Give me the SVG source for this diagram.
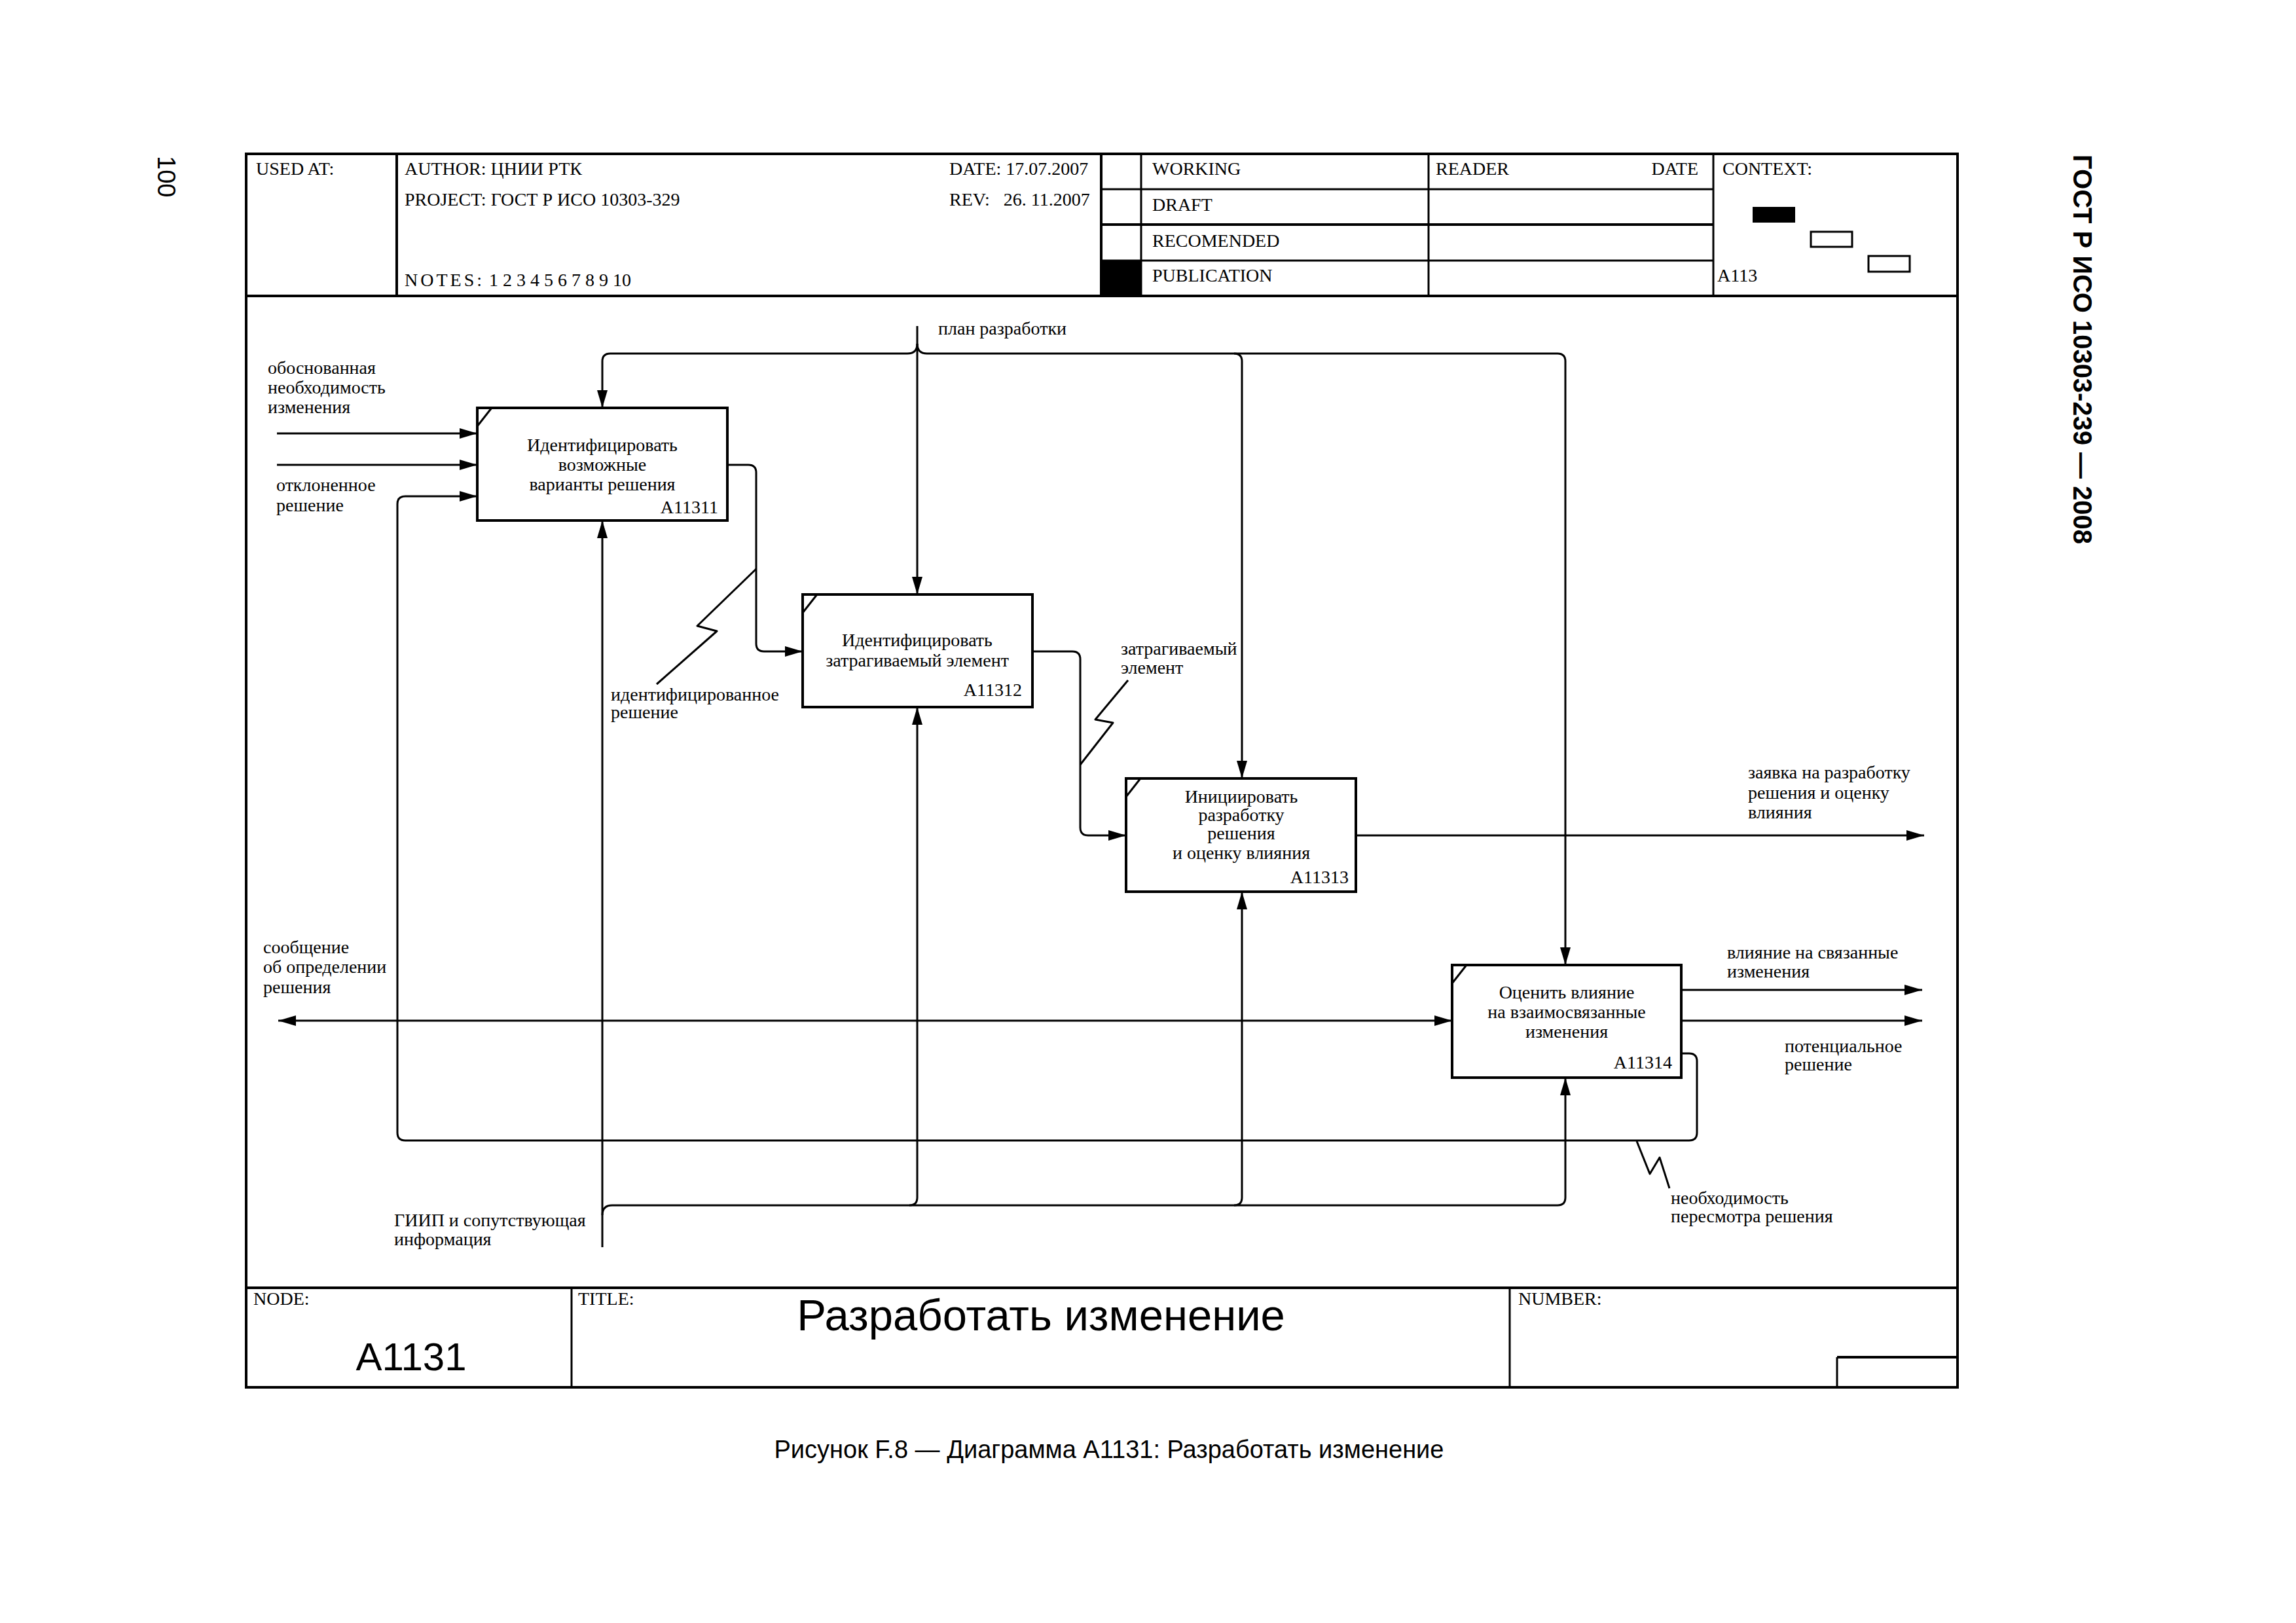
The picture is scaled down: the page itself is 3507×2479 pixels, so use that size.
<svg xmlns="http://www.w3.org/2000/svg" width="3507" height="2479" viewBox="0 0 3507 2479">
<style>
.bg{fill:#fff}
.fr{fill:none;stroke:#000;stroke-width:4}
.ln{fill:none;stroke:#000;stroke-width:3}
.box{fill:#fff;stroke:#000;stroke-width:4}
.cn{fill:none;stroke:#000;stroke-width:3;stroke-linejoin:round}
.arr{marker-end:url(#ah)}
.t{font-family:"Liberation Serif","Times New Roman",serif;font-size:28px;fill:#000}
.c{text-anchor:middle}
.r{text-anchor:end}
.s{font-family:"Liberation Sans",Arial,sans-serif;fill:#000}
</style>
<defs>
<marker id="ah" markerUnits="userSpaceOnUse" markerWidth="28" markerHeight="18" refX="27" refY="8" orient="auto-start-reverse"><path d="M0,0 L27,8 L0,16 z" fill="#000"/></marker>
</defs>
<rect class="bg" x="0" y="0" width="3507" height="2479"/>

<g id="page">
<text class="s" font-size="38" transform="translate(241,238) rotate(90)">100</text>
<text class="s" font-size="40" font-weight="bold" textLength="595" lengthAdjust="spacingAndGlyphs" transform="translate(3167,236) rotate(90)">ГОСТ Р ИСО 10303-239 — 2008</text>
<text class="s c" font-size="38" x="1694" y="2227">Рисунок F.8 — Диаграмма A1131: Разработать изменение</text>
</g>

<g id="frame">
<rect class="fr" x="376" y="235" width="2614" height="1884"/>
<line class="fr" x1="376" y1="452" x2="2990" y2="452"/>
<line class="fr" x1="376" y1="1967" x2="2990" y2="1967"/>
<line class="fr" x1="606" y1="235" x2="606" y2="452"/>
<line class="fr" x1="1682" y1="235" x2="1682" y2="452"/>
<line class="ln" x1="1743" y1="235" x2="1743" y2="452"/>
<line class="ln" x1="2182" y1="235" x2="2182" y2="452"/>
<line class="ln" x1="2617" y1="235" x2="2617" y2="452"/>
<line class="ln" x1="1682" y1="289" x2="2617" y2="289"/>
<line class="fr" x1="1682" y1="343" x2="2617" y2="343"/>
<line class="ln" x1="1682" y1="398" x2="2617" y2="398"/>
<rect x="1682" y="398" width="61" height="54" fill="#000"/>
<rect x="2677" y="316" width="65" height="24" fill="#000"/>
<rect class="ln" x="2766" y="354" width="63" height="23"/>
<rect class="ln" x="2854" y="391" width="63" height="24"/>
<line class="ln" x1="873" y1="1967" x2="873" y2="2119"/>
<line class="ln" x1="2306" y1="1967" x2="2306" y2="2119"/>
<line class="fr" x1="2806" y1="2073" x2="2990" y2="2073"/>
<line class="ln" x1="2806" y1="2073" x2="2806" y2="2119"/>
<text class="t" x="391" y="267">USED AT:</text>
<text class="t" x="618" y="267">AUTHOR: ЦНИИ РТК</text>
<text class="t" x="1450" y="267">DATE: 17.07.2007</text>
<text class="t" x="618" y="314">PROJECT: ГОСТ Р ИСО 10303-329</text>
<text class="t" x="1450" y="314" xml:space="preserve">REV:   26. 11.2007</text>
<text class="t" x="618" y="437"><tspan letter-spacing="4">NOTES:</tspan> 1 2 3 4 5 6 7 8 9 10</text>
<text class="t" x="1760" y="267">WORKING</text>
<text class="t" x="1760" y="322">DRAFT</text>
<text class="t" x="1760" y="377">RECOMENDED</text>
<text class="t" x="1760" y="430">PUBLICATION</text>
<text class="t" x="2193" y="267">READER</text>
<text class="t r" x="2594" y="267">DATE</text>
<text class="t" x="2631" y="267">CONTEXT:</text>
<text class="t" x="2623" y="430">A113</text>
<text class="t" x="387" y="1993">NODE:</text>
<text class="t" x="883" y="1993">TITLE:</text>
<text class="t" x="2319" y="1993">NUMBER:</text>
<text class="s c" font-size="60" x="628" y="2093">A1131</text>
<text class="s c" font-size="67" x="1590" y="2032">Разработать изменение</text>
</g>

<g id="connectors">
<path class="cn arr" d="M423,662 H729"/>
<path class="cn arr" d="M423,710 H729"/>
<path class="cn arr" d="M2568,1609 H2580 Q2592,1609 2592,1621 V1730 Q2592,1742 2580,1742 H619 Q607,1742 607,1730 V770 Q607,758 619,758 H729"/>
<path class="cn arr" d="M1111,710 H1143 Q1155,710 1155,722 V983 Q1155,995 1167,995 H1226"/>
<path class="cn arr" d="M1577,995 H1638 Q1650,995 1650,1007 V1264 Q1650,1276 1662,1276 H1720"/>
<path class="cn arr" d="M2071,1276 H2939"/>
<path class="cn arr" d="M2568,1512 H2936"/>
<path class="cn arr" d="M2568,1559 H2936"/>
<path class="cn arr" marker-start="url(#ah)" d="M425,1559 H2218"/>
<path class="cn arr" d="M1401,498 V908"/>
<path class="cn arr" d="M1401,525 Q1401,540 1386,540 H932 Q920,540 920,552 V623"/>
<path class="cn arr" d="M1401,525 Q1401,540 1416,540 H2379 Q2391,540 2391,552 V1474"/>
<path class="cn arr" d="M1885,540 Q1897,540 1897,552 V1189"/>
<path class="cn arr" d="M920,1905 V795"/>
<path class="cn arr" d="M920,1856 Q920,1841 935,1841 H2379 Q2391,1841 2391,1829 V1646"/>
<path class="cn arr" d="M1389,1841 Q1401,1841 1401,1829 V1080"/>
<path class="cn arr" d="M1885,1841 Q1897,1841 1897,1829 V1362"/>
<path class="cn" d="M1155,869 L1065,956 L1095,964 L1003,1045"/>
<path class="cn" d="M1650,1168 L1700,1104 L1673,1099 L1723,1039"/>
<path class="cn" d="M2500,1743 L2520,1793 L2535,1768 L2550,1815"/>
</g>

<g id="labels">
<text class="t" x="409" y="571">обоснованная</text>
<text class="t" x="409" y="601">необходимость</text>
<text class="t" x="409" y="631">изменения</text>
<text class="t" x="422" y="750">отклоненное</text>
<text class="t" x="422" y="781">решение</text>
<text class="t" x="1433" y="511">план разработки</text>
<text class="t" x="933" y="1070">идентифицированное</text>
<text class="t" x="933" y="1097">решение</text>
<text class="t" x="1712" y="1000">затрагиваемый</text>
<text class="t" x="1712" y="1029">элемент</text>
<text class="t" x="2670" y="1189">заявка на разработку</text>
<text class="t" x="2670" y="1220">решения и оценку</text>
<text class="t" x="2670" y="1250">влияния</text>
<text class="t" x="402" y="1456">сообщение</text>
<text class="t" x="402" y="1486">об определении</text>
<text class="t" x="402" y="1517">решения</text>
<text class="t" x="2638" y="1464">влияние на связанные</text>
<text class="t" x="2638" y="1493">изменения</text>
<text class="t" x="2726" y="1607">потенциальное</text>
<text class="t" x="2726" y="1635">решение</text>
<text class="t" x="2552" y="1839">необходимость</text>
<text class="t" x="2552" y="1867">пересмотра решения</text>
<text class="t" x="602" y="1873">ГИИП и сопутствующая</text>
<text class="t" x="602" y="1902">информация</text>
</g>

<g id="A11311">
<rect class="box" x="729" y="623" width="382" height="172"/>
<line class="ln" x1="729" y1="651" x2="751" y2="623"/>
<text class="t c" x="920" y="689">Идентифицировать</text>
<text class="t c" x="920" y="719">возможные</text>
<text class="t c" x="920" y="749">варианты решения</text>
<text class="t r" x="1097" y="784">A11311</text>
</g>
<g id="A11312">
<rect class="box" x="1226" y="908" width="351" height="172"/>
<line class="ln" x1="1226" y1="936" x2="1248" y2="908"/>
<text class="t c" x="1401" y="987">Идентифицировать</text>
<text class="t c" x="1401" y="1018">затрагиваемый элемент</text>
<text class="t r" x="1561" y="1063">A11312</text>
</g>
<g id="A11313">
<rect class="box" x="1720" y="1189" width="351" height="173"/>
<line class="ln" x1="1720" y1="1217" x2="1742" y2="1189"/>
<text class="t c" x="1896" y="1226">Инициировать</text>
<text class="t c" x="1896" y="1254">разработку</text>
<text class="t c" x="1896" y="1282">решения</text>
<text class="t c" x="1896" y="1312">и оценку влияния</text>
<text class="t r" x="2060" y="1349">A11313</text>
</g>
<g id="A11314">
<rect class="box" x="2218" y="1474" width="350" height="172"/>
<line class="ln" x1="2218" y1="1502" x2="2240" y2="1474"/>
<text class="t c" x="2393" y="1525">Оценить влияние</text>
<text class="t c" x="2393" y="1555">на взаимосвязанные</text>
<text class="t c" x="2393" y="1585">изменения</text>
<text class="t r" x="2554" y="1632">A11314</text>
</g>
</svg>
